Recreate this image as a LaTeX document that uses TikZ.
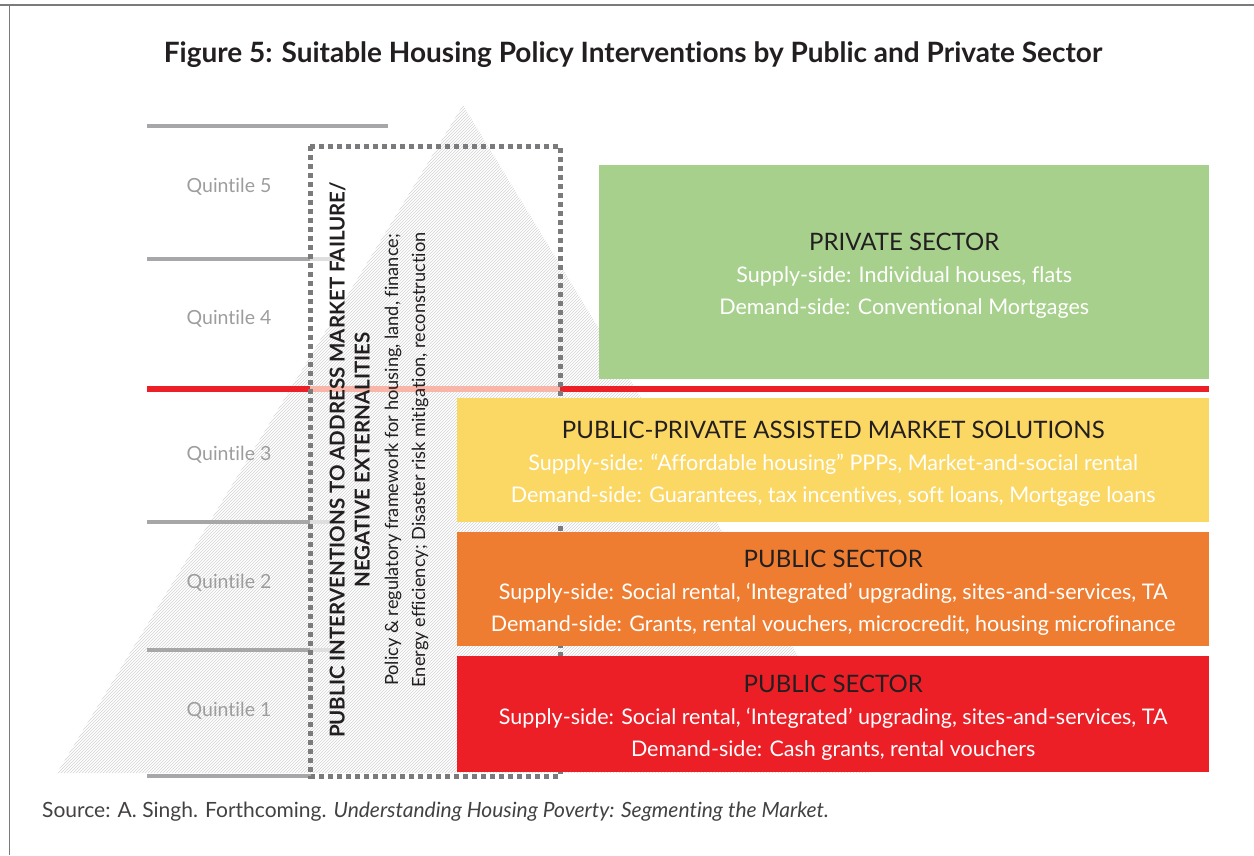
\documentclass[tikz,border=0pt]{standalone}
\usepackage{fontspec}
\setmainfont{Lato}[Ligatures=NoCommon]
\usetikzlibrary{positioning, patterns}
\definecolor{privgreen}{HTML}{A8D08D}
\definecolor{pppyellow}{HTML}{FBD764}
\definecolor{puborange}{HTML}{EE7D31}
\definecolor{pubred}{HTML}{EC1F27}
\definecolor{linegray}{HTML}{A7A7A9}
\definecolor{lightline}{HTML}{DEDEDF}
\definecolor{pinkline}{HTML}{F9B5A7}
\definecolor{dotgray}{HTML}{7B7B7D}
\definecolor{quintgray}{HTML}{9D9D9F}
\definecolor{headblack}{HTML}{231F20}
\newcommand{\kopf}[1]{{\fontsize{24}{32}\selectfont\color{headblack}\rule{0pt}{25pt}#1}}
\tikzset{sektor/.style={rectangle, anchor=north west, inner sep=0, align=center,
		text=white, font=\fontsize{21.5}{32}\selectfont},
	quintil/.style={text=quintgray, font=\fontsize{19.5}{22}\selectfont},
	trenner/.style={linegray, line width=3.5},
	schraeg/.style={rotate=90, align=center, text=headblack, inner sep=0} }

\begin{document}
\begin{tikzpicture}[x=1pt, y=-1pt]
	\useasboundingbox (0,0) rectangle (1254,855);
	% frame
	\draw[dotgray, line width=1.5] (0,5) -- (1254,5) (9.5,5) -- (9.5,855);

	\node (titel) [font=\bfseries\fontsize{28}{32}\selectfont, text=headblack] at (633,55)
		{Figure 5: Suitable Housing Policy Interventions by Public and Private Sector};

	% pyramid
	\fill[pattern=north east lines, pattern color=gray!35] (463,105) -- (869,773) -- (57,773) -- cycle;

	\draw[trenner] (147,126) -- (388,126);
	\foreach \y in {259,522,650} {
		\draw[trenner] (147,\y) -- (310,\y);
		\draw[lightline, line width=3.5] (310,\y) -- (345,\y);
	}
	\draw[trenner] (147,776) -- (310,776);

	\foreach \q/\y in {5/187, 4/319, 3/455, 2/583, 1/711}
		\node (q\q) [quintil] at (229,\y) {Quintile \q};

	% red divide
	\draw[pubred, line width=6] (147,389) -- (310,389) (560,389) -- (1209,389);
	\draw[pinkline, line width=6] (310,389) -- (560,389);

	\draw[dotgray, line width=5, dash pattern=on 5 off 4] (310,146) rectangle (560,776);

	\node (markt) [schraeg, font=\bfseries\fontsize{20.5}{25}\selectfont] at (349.5,460)
		{PUBLIC INTERVENTIONS TO ADDRESS MARKET FAILURE/\\NEGATIVE EXTERNALITIES};
	\node (rahmen) [schraeg, font=\fontsize{18.2}{27}\selectfont] at (406.5,460)
		{Policy \& regulatory framework for housing, land, finance;\\Energy efficiency; Disaster risk mitigation, reconstruction};

	% sectors
	\node (priv) [sektor, fill=privgreen, minimum width=610, minimum height=214] at (599,165)
		{\kopf{PRIVATE SECTOR}\\Supply-side: Individual houses, flats\\Demand-side: Conventional Mortgages};
	\node (ppp) [sektor, fill=pppyellow, minimum width=752, minimum height=124] at (457,398)
		{\kopf{PUBLIC-PRIVATE ASSISTED MARKET SOLUTIONS}\\Supply-side: “Affordable housing” PPPs, Market-and-social rental\\Demand-side: Guarantees, tax incentives, soft loans, Mortgage loans};
	\node (pub2) [sektor, fill=puborange, minimum width=752, minimum height=114] at (457,532)
		{\kopf{PUBLIC SECTOR}\\Supply-side: Social rental, ‘Integrated’ upgrading, sites-and-services, TA\\Demand-side: Grants, rental vouchers, microcredit, housing microfinance};
	\node (pub1) [sektor, fill=pubred, minimum width=752, minimum height=116] at (457,656)
		{\kopf{PUBLIC SECTOR}\\Supply-side: Social rental, ‘Integrated’ upgrading, sites-and-services, TA\\Demand-side: Cash grants, rental vouchers};

	\node (quelle) [anchor=west, inner sep=0, text=headblack!85, font=\fontsize{21}{24}\selectfont] at (42,812)
		{Source: A. Singh. Forthcoming. \textit{Understanding Housing Poverty: Segmenting the Market.}};
\end{tikzpicture}
\end{document}
